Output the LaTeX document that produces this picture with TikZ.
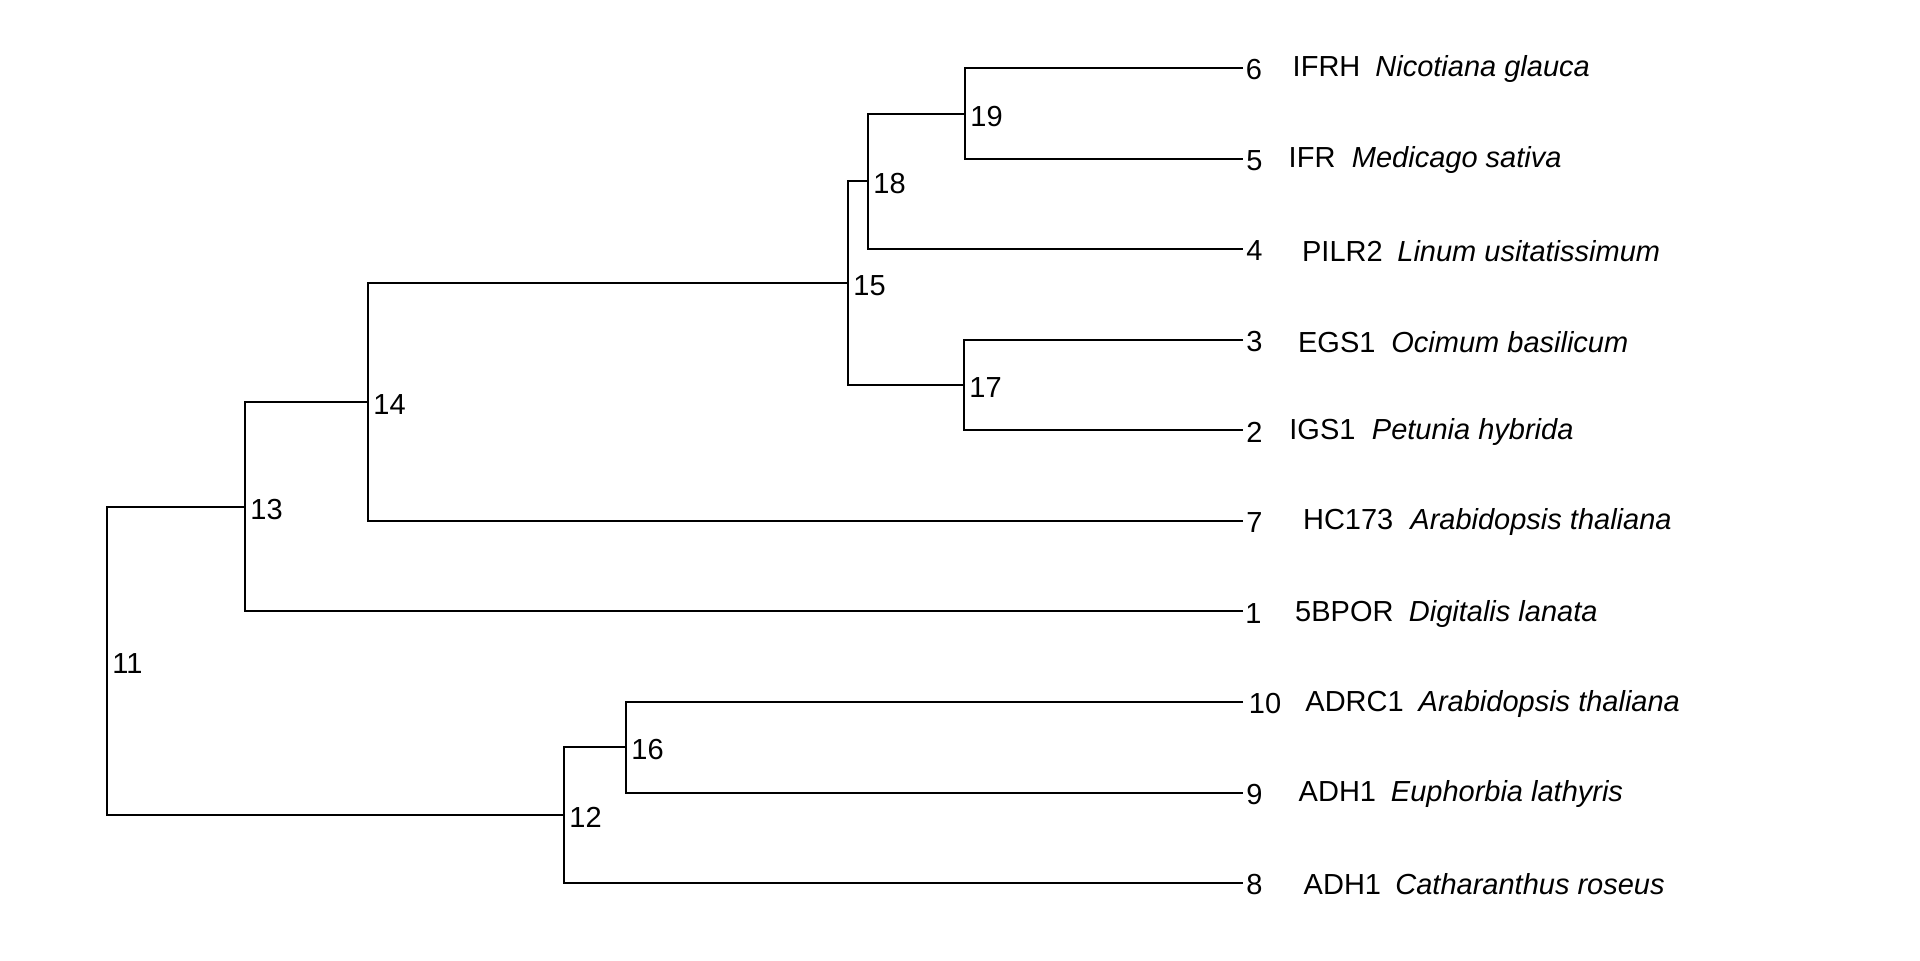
\documentclass[tikz,border=0pt]{standalone}
\usepackage{fontspec}
\setmainfont{Liberation Sans}
\usetikzlibrary{calc}
\begin{document}
\begin{tikzpicture}[x=0.5pt,y=-0.5pt,
  branch/.style={line width=1pt, line join=miter},
  lbl/.style={inner sep=0pt, anchor=base west, font=\fontsize{14.5}{17}\selectfont},
  sp/.style={inner sep=0pt, anchor=base west, font=\fontsize{14.5}{17}\selectfont\itshape}]
\useasboundingbox (0,0) rectangle (1920,960);
\fill[white] (0,0) rectangle (1920,960);
% tips
\coordinate (t6) at (1243,68);
\coordinate (t5) at (1243,159);
\coordinate (t4) at (1243,249);
\coordinate (t3) at (1243,340);
\coordinate (t2) at (1243,430);
\coordinate (t7) at (1243,521);
\coordinate (t1) at (1243,611);
\coordinate (t10) at (1243,702);
\coordinate (t9) at (1243,793);
\coordinate (t8) at (1243,883);
% internal nodes
\coordinate (n19) at (965,114);
\coordinate (n18) at (868,181);
\coordinate (n17) at (964,385);
\coordinate (n15) at (848,283);
\coordinate (n14) at (368,402);
\coordinate (n13) at (245,507);
\coordinate (n16) at (626,747);
\coordinate (n12) at (564,815);
\coordinate (n11) at (107,661);
% branches
\draw[branch] (t6) -| (n19) |- (t5);
\draw[branch] (n19) -| (n18) |- (t4);
\draw[branch] (t3) -| (n17) |- (t2);
\draw[branch] (n18) -| (n15) |- (n17);
\draw[branch] (n15) -| (n14) |- (t7);
\draw[branch] (n14) -| (n13) |- (t1);
\draw[branch] (t10) -| (n16) |- (t9);
\draw[branch] (n16) -| (n12) |- (t8);
\draw[branch] (n13) -| (n11) |- (n12);
% internal labels
\node[lbl] (l19) at ($(n19)+(5,12)$) {19};
\node[lbl] (l18) at ($(n18)+(5,12)$) {18};
\node[lbl] (l17) at ($(n17)+(5,12)$) {17};
\node[lbl] (l15) at ($(n15)+(5,12)$) {15};
\node[lbl] (l14) at ($(n14)+(5,12)$) {14};
\node[lbl] (l13) at ($(n13)+(5,12)$) {13};
\node[lbl] (l16) at ($(n16)+(5,12)$) {16};
\node[lbl] (l12) at ($(n12)+(5,12)$) {12};
\node[lbl] (l11) at ($(n11)+(5,12)$) {11};
% tip numbers
\node[lbl] (d6) at (1245.5,79.8) {6};
\node[lbl] (d5) at (1246,170.4) {5};
\node[lbl] (d4) at (1246,260.9) {4};
\node[lbl] (d3) at (1246,351.5) {3};
\node[lbl] (d2) at (1246,442) {2};
\node[lbl] (d7) at (1246,532.6) {7};
\node[lbl] (d1) at (1245,623.2) {1};
\node[lbl] (d10) at (1248.5,713.7) {10};
\node[lbl] (d9) at (1246,804.3) {9};
\node[lbl] (d8) at (1246,894.8) {8};
% gene names
\node[lbl] (g6) at (1292.3,76.8) {IFRH};
\node[lbl] (g5) at (1288.3,167.7) {IFR};
\node[lbl] (g4) at (1301.7,261.5) {PILR2};
\node[lbl] (g3) at (1297.7,352.1) {EGS1};
\node[lbl] (g2) at (1289,439.2) {IGS1};
\node[lbl] (g7) at (1302.7,529.5) {HC173};
\node[lbl] (g1) at (1294.8,621) {5BPOR};
\node[lbl] (g10) at (1305,711) {ADRC1};
\node[lbl] (g9) at (1298.3,801.7) {ADH1};
\node[lbl] (g8) at (1303.3,894.3) {ADH1};
% species
\node[sp] (s6) at (1375,76.8) {Nicotiana glauca};
\node[sp] (s5) at (1351.5,167.7) {Medicago sativa};
\node[sp] (s4) at (1397,261.5) {Linum usitatissimum};
\node[sp] (s3) at (1391,352.1) {Ocimum basilicum};
\node[sp] (s2) at (1371.5,439.2) {Petunia hybrida};
\node[sp] (s7) at (1410,529.5) {Arabidopsis thaliana};
\node[sp] (s1) at (1408.5,621) {Digitalis lanata};
\node[sp] (s10) at (1418.3,711) {Arabidopsis thaliana};
\node[sp] (s9) at (1390.5,801.7) {Euphorbia lathyris};
\node[sp] (s8) at (1395,894.3) {Catharanthus roseus};
\end{tikzpicture}
\end{document}
